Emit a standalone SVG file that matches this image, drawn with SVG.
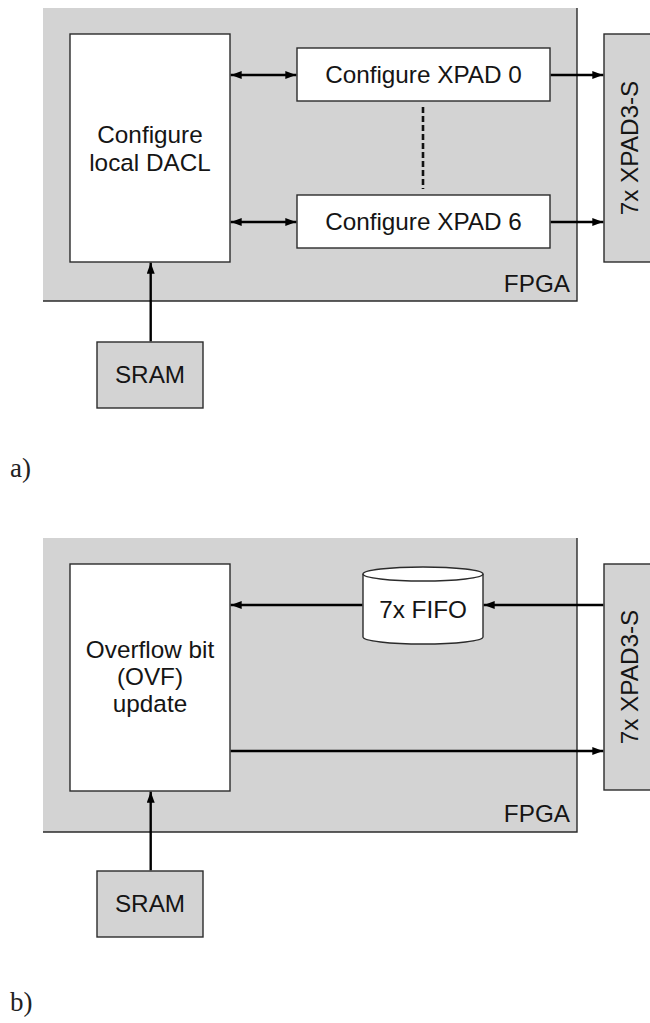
<svg xmlns="http://www.w3.org/2000/svg" width="650" height="1023" viewBox="0 0 650 1023">
<style>
  .fpga { fill: #d3d3d3; stroke: none; }
  .edge { stroke: #2b2b2b; stroke-width: 1.4; fill: none; }
  .box { fill: #ffffff; stroke: #2b2b2b; stroke-width: 1.4; }
  .gbox { fill: #d3d3d3; stroke: #2b2b2b; stroke-width: 1.4; }
  .t { font-family: "Liberation Sans", Arial, sans-serif; font-size: 24.3px; fill: #151515; text-anchor: middle; }
  .te { font-family: "Liberation Sans", Arial, sans-serif; font-size: 24.3px; fill: #151515; text-anchor: end; }
  .lab { font-family: "Liberation Serif", "DejaVu Serif", serif; font-size: 27px; fill: #222; }
  .arr { stroke: #000; stroke-width: 2.4; fill: none; }
  .dash { stroke: #111; stroke-width: 2.6; stroke-dasharray: 6 3; fill: none; }
</style>
<defs>
  <marker id="ah" viewBox="0 0 11 8" refX="11" refY="4" markerWidth="11" markerHeight="8" markerUnits="userSpaceOnUse" orient="auto-start-reverse">
    <path d="M0,0 L11,4 L0,8 z" fill="#000"/>
  </marker>
</defs>

<!-- Part a -->
<g id="fpga-a">
  <rect class="fpga" x="43" y="8" width="534" height="293"/>
  <path class="edge" d="M43,301 H577 V8"/>
  <text class="te" x="570" y="292">FPGA</text>
</g>
<g id="dacl">
  <rect class="box" x="70" y="34" width="160" height="228"/>
  <text class="t" x="150" y="143">Configure</text>
  <text class="t" x="150" y="171">local DACL</text>
</g>
<g id="xpad0">
  <rect class="box" x="297" y="48" width="253" height="53"/>
  <text class="t" x="423.5" y="83">Configure XPAD 0</text>
</g>
<g id="xpad6">
  <rect class="box" x="297" y="195" width="253" height="53"/>
  <text class="t" x="423.5" y="230">Configure XPAD 6</text>
</g>
<g id="xpad3s-a">
  <rect class="gbox" x="604" y="34" width="60" height="228"/>
  <text class="t" transform="translate(638,148) rotate(-90)">7x XPAD3-S</text>
</g>
<g id="sram-a">
  <rect class="gbox" x="97" y="342" width="106" height="66"/>
  <text class="t" x="150" y="383">SRAM</text>
</g>
<text class="lab" x="10" y="477">a)</text>

<!-- Part b -->
<g id="fpga-b">
  <rect class="fpga" x="43" y="538" width="534" height="294"/>
  <path class="edge" d="M43,832 H577 V538"/>
  <text class="te" x="570" y="822">FPGA</text>
</g>
<g id="ovf">
  <rect class="box" x="70" y="564" width="160" height="227"/>
  <text class="t" x="150" y="658">Overflow bit</text>
  <text class="t" x="150" y="685">(OVF)</text>
  <text class="t" x="150" y="712">update</text>
</g>
<g id="fifo">
  <path class="box" d="M363,574 V637 A60,7 0 0 0 483,637 V574 A60,7 0 0 0 363,574 Z"/>
  <path class="edge" d="M363,574 A60,7 0 0 0 483,574"/>
  <text class="t" x="423" y="618">7x FIFO</text>
</g>
<g id="xpad3s-b">
  <rect class="gbox" x="604" y="564" width="60" height="226"/>
  <text class="t" transform="translate(638,677) rotate(-90)">7x XPAD3-S</text>
</g>
<g id="sram-b">
  <rect class="gbox" x="97" y="871" width="106" height="66"/>
  <text class="t" x="150" y="912">SRAM</text>
</g>
<text class="lab" x="10" y="1011">b)</text>

<g id="connectors">
  <line class="arr" x1="230.7" y1="75" x2="296.3" y2="75" marker-start="url(#ah)" marker-end="url(#ah)"/>
  <line class="arr" x1="230.7" y1="222" x2="296.3" y2="222" marker-start="url(#ah)" marker-end="url(#ah)"/>
  <line class="dash" x1="423" y1="107" x2="423" y2="189"/>
  <line class="arr" x1="550.7" y1="75" x2="603.3" y2="75" marker-end="url(#ah)"/>
  <line class="arr" x1="550.7" y1="222" x2="603.3" y2="222" marker-end="url(#ah)"/>
  <line class="arr" x1="150.7" y1="341.3" x2="150.7" y2="262.7" marker-end="url(#ah)"/>

  <line class="arr" x1="603.3" y1="605" x2="483.7" y2="605" marker-end="url(#ah)"/>
  <line class="arr" x1="362.3" y1="605" x2="230.7" y2="605" marker-end="url(#ah)"/>
  <line class="arr" x1="230.7" y1="751" x2="603.3" y2="751" marker-end="url(#ah)"/>
  <line class="arr" x1="150.7" y1="870.3" x2="150.7" y2="791.7" marker-end="url(#ah)"/>
</g>
</svg>
